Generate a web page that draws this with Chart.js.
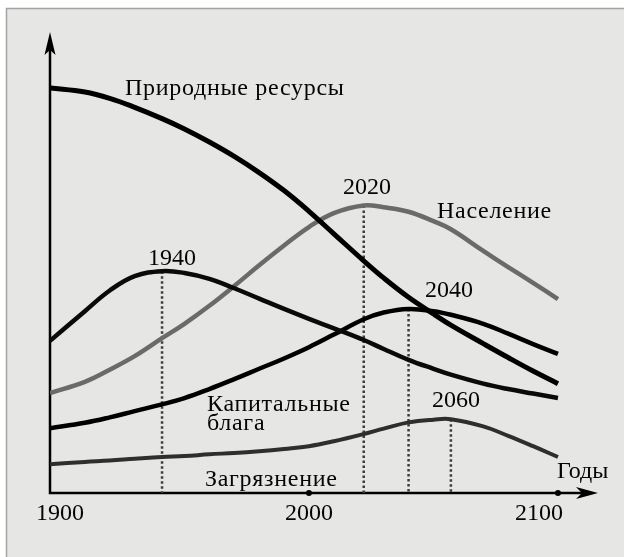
<!DOCTYPE html>
<html>
<head>
<meta charset="utf-8">
<script src="https://cdn.jsdelivr.net/npm/chart.js@4"></script>
<style>
  html, body { margin: 0; padding: 0; background: #fff; }
  #wrap { position: relative; width: 624px; height: 557px; }
  #probe { position: absolute; left: 20px; top: 20px; font: 24px "Liberation Serif"; color: #e6e6e4; }
  canvas { position: absolute; left: 0; top: 0; display: block; }
</style>
</head>
<body>
<div id="wrap">
  <span id="probe">Природные ресурсы Население Годы 1900 2020</span>
  <canvas id="chart" width="624" height="557"></canvas>
</div>
<script>
// values (relative units, 0 = x axis)
const years = [1896, 1910, 1920, 1930, 1941, 1950, 1960, 1970, 1980, 1990, 2000, 2010, 2022, 2030, 2040, 2050, 2057, 2070, 2080, 2090, 2100];
const resources = [90.0, 89.1, 87.7, 85.7, 83.2, 80.9, 78.0, 74.8, 71.2, 67.2, 62.6, 57.6, 51.6, 47.8, 43.5, 39.8, 37.3, 33.2, 30.1, 27.1, 24.3];
const food = [33.8, 40.4, 45.0, 48.2, 49.3, 48.9, 47.6, 45.5, 43.2, 40.9, 38.7, 36.6, 34.0, 32.0, 29.6, 27.6, 26.3, 24.3, 23.1, 22.1, 21.1];
const population = [22.2, 24.7, 27.4, 30.4, 34.4, 37.6, 41.6, 46.0, 50.6, 55.0, 59.1, 62.2, 63.9, 63.5, 62.5, 60.4, 58.6, 53.8, 50.2, 46.7, 43.1];
const capital = [14.4, 15.6, 16.8, 18.2, 19.7, 21.1, 23.1, 25.3, 27.6, 29.9, 32.4, 35.2, 38.6, 40.1, 40.9, 40.4, 39.6, 37.6, 35.4, 33.1, 30.9];
const pollution = [6.4, 6.9, 7.2, 7.6, 8.0, 8.2, 8.6, 8.9, 9.3, 9.8, 10.4, 11.5, 13.1, 14.3, 15.7, 16.3, 16.4, 14.8, 12.7, 10.4, 8.0];

const peakYears = [1941, 2022, 2040, 2057];
const peakLabels = ['1940', '2020', '2040', '2060'];
const peakSeries = [food, population, capital, pollution];

const tickYears = [1900, 2000, 2100];
const tickLabels = ['1900', '2000', '2100'];
const tickDots = [2000, 2100];

const FONT = '24px "Liberation Serif"';

function points(values) {
  return values.map((v, i) => ({ x: years[i], y: v }));
}

function curve(label, values, color, width) {
  return {
    label, data: points(values),
    borderColor: color, borderWidth: width,
    pointRadius: 0, tension: 0.4,
    fill: false, order: 0
  };
}

let dropLines = peakYears.map((yr, i) => {
  let v = peakSeries[i][years.indexOf(yr)];
  return {
    label: 'drop ' + peakLabels[i],
    data: [{ x: yr, y: v }, { x: yr, y: 0 }],
    borderColor: '#3d3d3d', borderWidth: 2.5, borderDash: [2.5, 2.5],
    pointRadius: 0, fill: false, order: 10
  };
});

// text placed as in the picture (words are set a bit wider)
const notes = [
  { text: 'Природные ресурсы', x: 125, y: 95, wide: true },
  { text: '2020', x: 343, y: 194 },
  { text: 'Население', x: 437, y: 218, wide: true },
  { text: '1940', x: 148, y: 265 },
  { text: '2040', x: 425, y: 297 },
  { text: '2060', x: 432, y: 407 },
  { text: 'Капитальные', x: 207, y: 411, wide: true },
  { text: 'блага', x: 207, y: 430, wide: true },
  { text: 'Загрязнение', x: 205, y: 486, wide: true },
  { text: 'Годы', x: 557, y: 478 }
];

const decor = {
  id: 'decor',
  beforeDraw(chart) {
    let ctx = chart.ctx;
    ctx.save();
    ctx.fillStyle = '#fff';
    ctx.fillRect(0, 0, chart.width, chart.height);
    ctx.fillStyle = '#e6e6e4';
    ctx.fillRect(6, 8, chart.width - 6, chart.height - 8);
    ctx.strokeStyle = '#a3a3a3';
    ctx.lineWidth = 1.5;
    ctx.beginPath();
    ctx.moveTo(6.5, chart.height);
    ctx.lineTo(6.5, 8.5);
    ctx.lineTo(chart.width, 8.5);
    ctx.stroke();
    ctx.restore();
  },
  beforeDatasetsDraw(chart) {
    let { ctx, chartArea: a } = chart;
    ctx.save();
    ctx.strokeStyle = '#000';
    ctx.fillStyle = '#000';
    ctx.lineWidth = 2.5;
    ctx.beginPath();
    ctx.moveTo(a.left, a.top + 10);
    ctx.lineTo(a.left, a.bottom);
    ctx.lineTo(a.right - 10, a.bottom);
    ctx.stroke();
    // arrow heads
    ctx.beginPath();
    ctx.moveTo(a.left, a.top);
    ctx.lineTo(a.left + 5.5, a.top + 23);
    ctx.lineTo(a.left, a.top + 18);
    ctx.lineTo(a.left - 5.5, a.top + 23);
    ctx.closePath();
    ctx.fill();
    ctx.beginPath();
    ctx.moveTo(a.right, a.bottom);
    ctx.lineTo(a.right - 22, a.bottom - 6);
    ctx.lineTo(a.right - 16, a.bottom);
    ctx.lineTo(a.right - 22, a.bottom + 6);
    ctx.closePath();
    ctx.fill();
    ctx.restore();
  },
  afterDatasetsDraw(chart) {
    let { ctx, chartArea: a } = chart;
    let xs = chart.scales.x;
    ctx.save();
    ctx.fillStyle = '#000';
    tickDots.forEach(yr => {
      ctx.beginPath();
      ctx.arc(xs.getPixelForValue(yr), a.bottom, 3, 0, Math.PI * 2);
      ctx.fill();
    });
    ctx.font = FONT;
    ctx.fillStyle = '#050505';
    ctx.textBaseline = 'alphabetic';
    tickYears.forEach((yr, i) => {
      let last = i === tickYears.length - 1;
      ctx.textAlign = last ? 'right' : 'center';
      let px = xs.getPixelForValue(yr) + (last ? 5 : 0);
      ctx.fillText(tickLabels[i], px, a.bottom + 27);
    });
    ctx.textAlign = 'left';
    notes.forEach(n => {
      ctx.letterSpacing = n.wide ? '0.7px' : '0px';
      ctx.fillText(n.text, n.x, n.y);
    });
    ctx.restore();
  }
};

function draw() {
  new Chart(document.getElementById('chart'), {
    type: 'line',
    data: {
      datasets: [
        curve('Природные ресурсы', resources, '#000', 5),
        curve('1940', food, '#0a0a0a', 4.5),
        curve('Население', population, '#6a6a6a', 4.5),
        curve('Капитальные блага', capital, '#000', 4.5),
        curve('Загрязнение', pollution, '#2e2e2e', 4),
        ...dropLines
      ]
    },
    options: {
      responsive: false,
      animation: false,
      devicePixelRatio: 1,
      layout: { padding: { left: 50, right: 26, top: 32, bottom: 64 } },
      scales: {
        x: { type: 'linear', min: 1896, max: 2116.08, display: false },
        y: { min: 0, max: 102.44, display: false }
      },
      plugins: {
        legend: { display: false },
        tooltip: { enabled: false }
      }
    },
    plugins: [decor]
  });
}

document.fonts.ready.then(draw, draw);
</script>
</body>
</html>
